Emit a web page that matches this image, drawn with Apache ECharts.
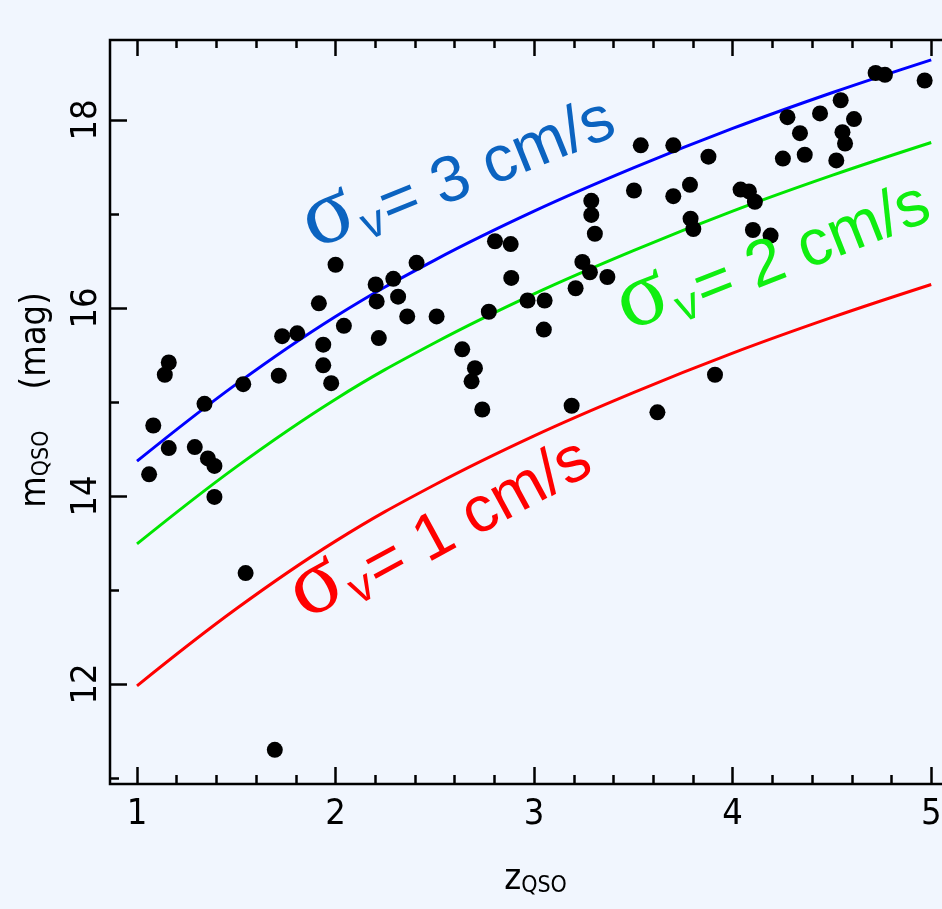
<!DOCTYPE html>
<html>
<head>
<meta charset="utf-8">
<script src="https://cdn.jsdelivr.net/npm/echarts@6/dist/echarts.min.js"></script>
<style>
html,body{margin:0;padding:0;background:#f1f6fe;}
#c{width:942px;height:909px;}
</style>
</head>
<body>
<div id="c"></div>
<script>
// ---- data ----
var curveZ = [1, 1.5, 2, 2.5, 3, 3.5, 4, 4.5, 5];
var curve3 = [14.37, 15.19, 15.91, 16.51, 17.03, 17.49, 17.91, 18.29, 18.64];
var curve2 = [13.49, 14.31, 15.03, 15.63, 16.15, 16.61, 17.03, 17.41, 17.76];
var curve1 = [11.98, 12.80, 13.52, 14.12, 14.64, 15.10, 15.52, 15.90, 16.25];

var qsoZ = [1.061,1.082,1.140,1.160,1.160,1.291,1.340,1.357,1.390,1.390,
            1.535,1.547,1.694,1.714,1.731,1.807,1.916,1.938,1.938,1.978,
            2.000,2.042,2.202,2.207,2.218,2.291,2.315,2.361,2.408,2.509,
            2.638,2.702,2.685,2.739,2.772,2.803,2.882,2.885,2.967,3.053,
            3.049,3.189,3.209,3.243,3.281,3.288,3.288,3.306,3.369,3.503,
            3.537,3.621,3.701,3.701,3.785,3.788,3.802,3.878,3.911,4.040,
            4.082,4.112,4.102,4.191,4.253,4.276,4.339,4.363,4.440,4.522,
            4.544,4.553,4.566,4.611,4.720,4.767,4.967];
var qsoM = [14.23,14.75,15.29,15.42,14.51,14.52,14.98,14.40,14.32,13.99,
            15.19,13.18,11.30,15.28,15.70,15.73,16.05,15.61,15.39,15.20,
            16.46,15.81,16.25,16.07,15.68,16.31,16.12,15.91,16.48,15.91,
            15.56,15.36,15.22,14.92,15.96,16.71,16.68,16.32,16.08,16.08,
            15.77,14.96,16.21,16.49,16.38,17.14,16.99,16.79,16.33,17.25,
            17.73,14.89,17.73,17.19,17.31,16.95,16.84,17.61,15.29,17.26,
            17.24,17.13,16.83,16.77,17.59,18.03,17.86,17.63,18.07,17.57,
            18.21,17.87,17.75,18.01,18.50,18.48,18.42];

var xMajor = [1, 2, 3, 4, 5];
var xMinor = [1.2,1.4,1.6,1.8,2.2,2.4,2.6,2.8,3.2,3.4,3.6,3.8,4.2,4.4,4.6,4.8];
var yMajor = [12, 14, 16, 18];
var yMinor = [11, 13, 15, 17];

var labels = [
  {v: '3', color: '#0b63c0'},
  {v: '2', color: '#10ee10'},
  {v: '1', color: '#ff0000'}
];

// ---- chart ----
var NARROW = "'Liberation Sans Narrow','DejaVu Sans Condensed',sans-serif";
var SANS = "'Liberation Sans',Arial,sans-serif";
var XMIN = 0.864, XMAX = 5.15, YMIN = 10.936, YMAX = 18.851;

function pairs(xs, ys) { return xs.map(function (x, i) { return [x, ys[i]]; }); }

function xAx(pos, ticks, len, showLabel, extra) {
  var a = {
    type: 'value', position: pos, min: XMIN, max: XMAX, gridIndex: 0,
    axisLine: {show: false}, splitLine: {show: false},
    axisTick: {show: true, inside: true, length: len, customValues: ticks,
               lineStyle: {color: '#000', width: 2.5}},
    axisLabel: {show: showLabel, customValues: ticks, margin: 13,
                fontFamily: NARROW, fontSize: 36, color: '#000'}
  };
  return Object.assign(a, extra || {});
}
function yAx(ticks, len, showLabel, extra) {
  var a = {
    type: 'value', position: 'left', min: YMIN, max: YMAX, gridIndex: 0,
    axisLine: {show: false}, splitLine: {show: false},
    axisTick: {show: true, inside: true, length: len, customValues: ticks,
               lineStyle: {color: '#000', width: 2.5}},
    axisLabel: {show: showLabel, customValues: ticks, rotate: 90, margin: 5,
                fontFamily: NARROW, fontSize: 36, color: '#000'}
  };
  return Object.assign(a, extra || {});
}

var chart = echarts.init(document.getElementById('c'), null, {renderer: 'canvas'});

function labelGraphic(txt, color, x, y, deg) {
  return {
    type: 'text', x: x, y: y, rotation: deg * Math.PI / 180, z: 100,
    style: {
      text: '{s|σ}{v|v}{t|= ' + txt + ' cm/s}',
      textAlign: 'left', textVerticalAlign: 'bottom',
      fill: color,
      rich: {
        s: {fontFamily: "'Liberation Serif','DejaVu Serif',serif", fontSize: 94, lineHeight: 94, verticalAlign: 'bottom', fill: color},
        v: {fontFamily: SANS, fontSize: 46, lineHeight: 58, verticalAlign: 'bottom', fill: color, padding: [0, 2, 0, 3]},
        t: {fontFamily: SANS, fontSize: 65, lineHeight: 65, verticalAlign: 'bottom', fill: color}
      }
    }
  };
}

var option = {
  backgroundColor: '#f1f6fe',
  animation: false,
  grid: {left: 110, top: 40, width: 851, height: 744, show: true,
         outerBoundsMode: 'none', containLabel: false,
         borderColor: '#000', borderWidth: 2.5, backgroundColor: 'transparent'},
  xAxis: [
    xAx('bottom', xMajor, 17, true, {
      name: '{z|z}{q|QSO}', nameLocation: 'middle', nameGap: 74,
      nameTextStyle: {rich: {
        z: {fontFamily: NARROW, fontSize: 36, color: '#000', verticalAlign: 'bottom', lineHeight: 40},
        q: {fontFamily: NARROW, fontSize: 23, color: '#000', verticalAlign: 'bottom', lineHeight: 28}
      }}
    }),
    xAx('bottom', xMinor, 9, false),
    xAx('top', xMajor, 16, false),
    xAx('top', xMinor, 8, false)
  ],
  yAxis: [
    yAx(yMajor, 17, true, {
      name: '{m|m}{q|QSO}{m|    (mag)}', nameLocation: 'middle', nameGap: 56, nameRotate: 90,
      nameTextStyle: {padding: [0, 0, 0, 24], rich: {
        m: {fontFamily: NARROW, fontSize: 36, color: '#000', verticalAlign: 'bottom', lineHeight: 40},
        q: {fontFamily: NARROW, fontSize: 23, color: '#000', verticalAlign: 'bottom', lineHeight: 28}
      }}
    }),
    yAx(yMinor, 9, false)
  ],
  series: [
    {type: 'line', xAxisIndex: 0, yAxisIndex: 0, data: pairs(curveZ, curve3), smooth: 0.4,
     showSymbol: false, lineStyle: {color: '#0000ff', width: 3}},
    {type: 'line', xAxisIndex: 0, yAxisIndex: 0, data: pairs(curveZ, curve2), smooth: 0.4,
     showSymbol: false, lineStyle: {color: '#00e600', width: 3}},
    {type: 'line', xAxisIndex: 0, yAxisIndex: 0, data: pairs(curveZ, curve1), smooth: 0.4,
     showSymbol: false, lineStyle: {color: '#ff0000', width: 3}},
    {type: 'scatter', xAxisIndex: 0, yAxisIndex: 0, data: pairs(qsoZ, qsoM),
     symbol: 'circle', symbolSize: 16, itemStyle: {color: '#000', opacity: 1}, z: 5}
  ],
  graphic: [
    labelGraphic(labels[0].v, labels[0].color, 322, 270, 22),
    labelGraphic(labels[1].v, labels[1].color, 636, 352, 21.5),
    labelGraphic(labels[2].v, labels[2].color, 316, 640, 28.5)
  ]
};
chart.setOption(option);
</script>
</body>
</html>
